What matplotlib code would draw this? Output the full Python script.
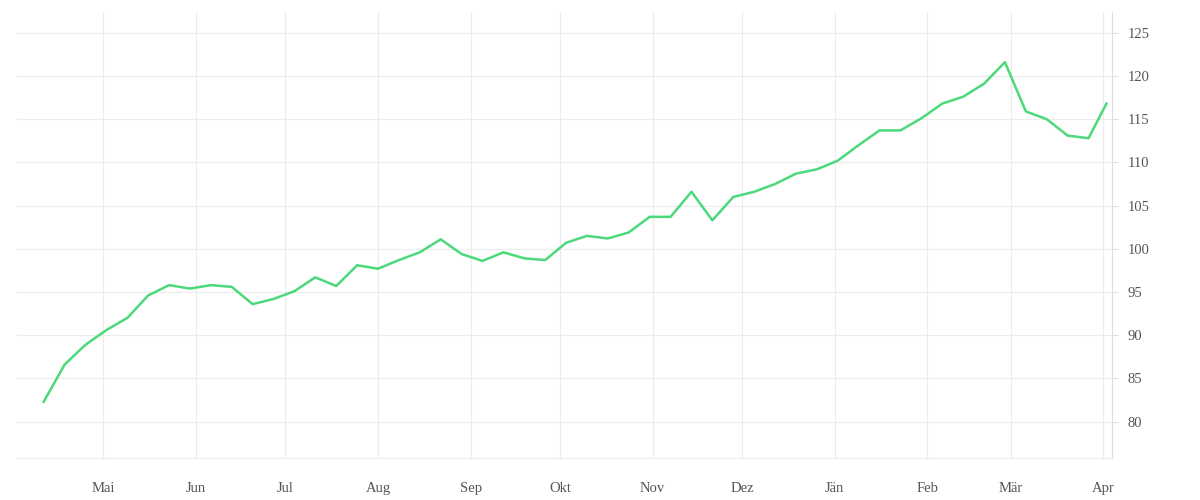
import matplotlib.pyplot as plt
import pandas as pd

values = [82.3, 86.6, 88.9, 90.6, 92.0, 94.6, 95.8, 95.4, 95.8, 95.6,
          93.6, 94.2, 95.1, 96.7, 95.7, 98.1, 97.7, 98.7, 99.6, 101.1,
          99.4, 98.6, 99.6, 98.9, 98.7, 100.7, 101.5, 101.2, 101.9, 103.7,
          103.7, 106.6, 103.3, 106.0, 106.6, 107.5, 108.7, 109.2, 110.2, 112.0,
          113.7, 113.7, 115.1, 116.8, 117.6, 119.1, 121.6, 115.9, 115.0, 113.1,
          112.8, 116.8]
dates = list(pd.date_range('2021-04-11', periods=51, freq='7D')) + [pd.Timestamp('2022-04-02')]
month_labels = ['Mai', 'Jun', 'Jul', 'Aug', 'Sep', 'Okt', 'Nov', 'Dez', 'Jän', 'Feb', 'Mär', 'Apr']
month_ticks = pd.date_range('2021-05-01', periods=12, freq='MS')

plt.rcParams['font.family'] = ['Liberation Serif', 'DejaVu Serif']
fig = plt.figure(figsize=(12, 5), dpi=100)
ax = fig.add_axes([0.014, 0.084, 0.913, 0.892])

ax.plot(dates, values, color='#4cd97b', linewidth=1.8)

ax.set_xlim(pd.Timestamp('2021-04-02'), pd.Timestamp('2022-04-04'))
ax.set_ylim(75.8, 127.4)
ax.set_xticks(month_ticks)
ax.set_xticklabels(month_labels)
ax.set_yticks(range(80, 126, 5))
ax.yaxis.tick_right()
ax.grid(True, color='#ececec', linewidth=0.8)
for s in ['top', 'left']:
    ax.spines[s].set_visible(False)
ax.spines['bottom'].set_color('#ececec')
ax.spines['right'].set_color('#dddddd')
ax.tick_params(colors='#555555', labelsize=10.5, length=0)
ax.tick_params(axis='x', pad=17)
ax.tick_params(axis='y', length=4, color='#dddddd', pad=7)

fig.savefig('out.png')
